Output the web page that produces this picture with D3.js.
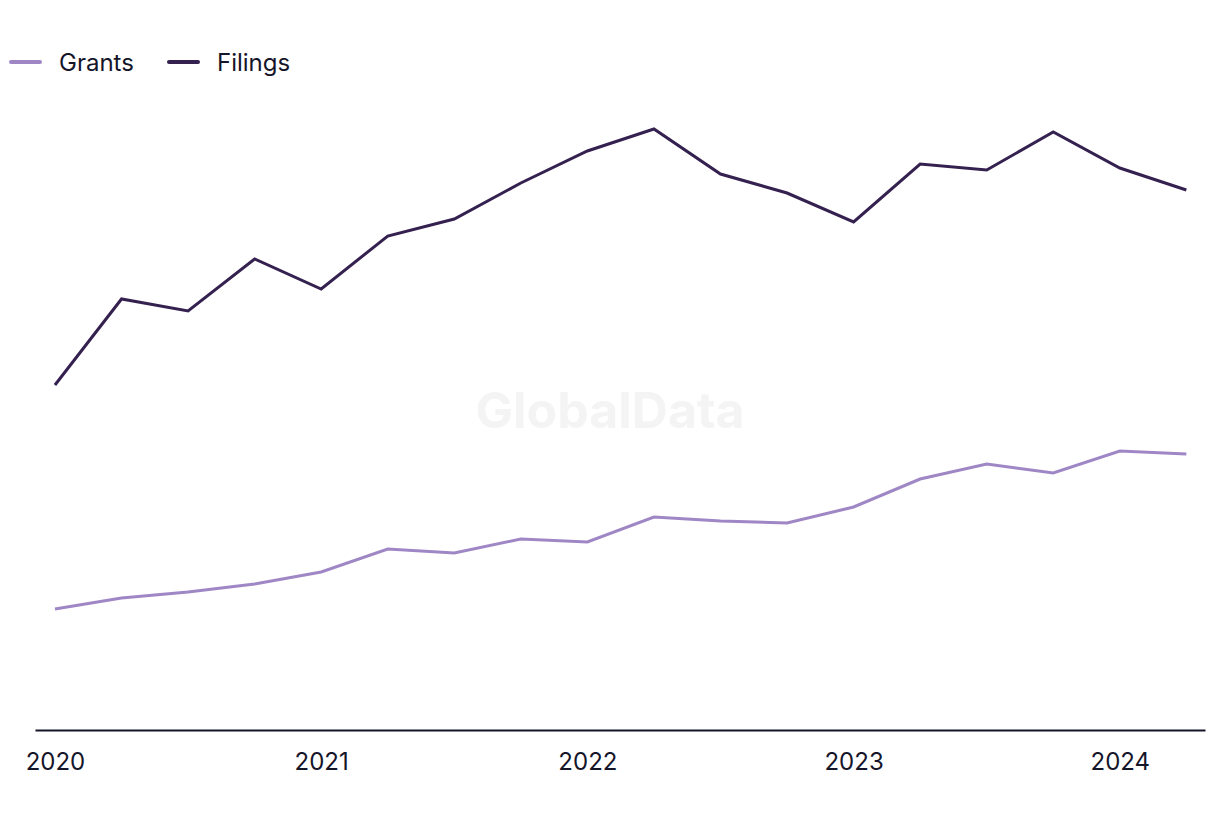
<!DOCTYPE html>
<html><head><meta charset="utf-8">
<script src="https://cdn.jsdelivr.net/npm/d3@7"></script>
<style>
html,body{margin:0;padding:0;background:#fff;}
svg{display:block;font-family:Inter,"Liberation Sans",sans-serif;}
</style></head>
<body>
<svg id="chart" width="1220" height="820"></svg>
<script>
const quarters = [2020,2020.25,2020.5,2020.75,2021,2021.25,2021.5,2021.75,2022,2022.25,2022.5,2022.75,2023,2023.25,2023.5,2023.75,2024,2024.25];
const filings = [345,431,419,471,441,494,511,547,579,601,556,537,508,566,560,598,562,540];
const grants  = [121,132,138,146,158,181,177,191,188,213,209,207,223,251,266,257,279,276];
const tickYears = [2020,2021,2022,2023,2024];
const seriesNames = ["Grants","Filings"];
const seriesColors = ["#9f87c5","#35214f"];

const svg = d3.select("#chart");
const x = d3.scaleLinear().domain([2019.925, 2024.32]).range([35, 1205]);
const y = d3.scaleLinear().domain([0, 700]).range([730, 30]);

// watermark
svg.append("text").attr("x", 610).attr("y", 428).attr("text-anchor","middle")
  .attr("font-size", 50).attr("font-weight", 700).attr("fill", "#f4f4f4")
  .attr("font-family","Inter,'Liberation Sans',sans-serif")
  .text("GlobalData");

// axis
const axis = d3.axisBottom(x).tickValues(tickYears).tickFormat(d3.format("d")).tickSize(0).tickPadding(23);
const g = svg.append("g").attr("transform", `translate(0,${y(0)})`).call(axis);
g.select(".domain").attr("stroke","#15152a").attr("stroke-width",2);
g.selectAll("text").attr("font-size",24).attr("fill","#15152a")
  .attr("font-family","Inter,'Liberation Sans',sans-serif");

const line = d3.line().x((d,i)=>x(quarters[i])).y(d=>y(d));
[grants, filings].forEach((s,k)=>{
  svg.append("path").datum(s).attr("d", line).attr("fill","none")
    .attr("stroke", seriesColors[k]).attr("stroke-width",3).attr("stroke-linejoin","miter");
});

// legend
const legendX = [10, 168];
seriesNames.forEach((n,k)=>{
  const lg = svg.append("g").attr("transform",`translate(${legendX[k]},62)`);
  lg.append("line").attr("x1",1).attr("x2",30).attr("y1",0).attr("y2",0)
    .attr("stroke",seriesColors[k]).attr("stroke-width",4).attr("stroke-linecap","round");
  lg.append("text").attr("x",49).attr("y",9).attr("font-size",24).attr("fill","#15152a").text(n);
});
</script>
</body></html>
